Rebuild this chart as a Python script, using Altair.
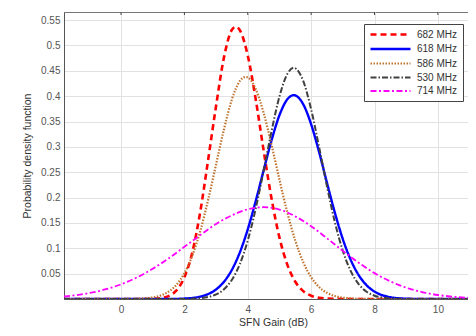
import altair as alt
import pandas as pd

series_order = ["682 MHz", "618 MHz", "586 MHz", "530 MHz", "714 MHz"]
series_colors = ["#ff0000", "#0000ff", "#c0732e", "#404040", "#ff00ff"]
series_dashes = [[6, 4], [1, 0], [1.5, 1.5], [6, 2, 1.5, 2], [6, 2.5, 2, 2.5]]
series_widths = [2.6, 1.8, 2.6, 2.4, 2.0]

x_682 = [-1.8, 0.75, 1.0, 1.25, 1.5, 1.75, 2.0, 2.25, 2.5, 2.75, 3.0, 3.25, 3.5, 3.625, 3.75,
         4.0, 4.25, 4.5, 4.75, 5.0, 5.25, 5.5, 5.75, 6.0, 6.25, 6.5, 7.0, 11.2]
y_682 = [0, 0, 0.0004, 0.0017, 0.0058, 0.017, 0.043, 0.092, 0.172, 0.275, 0.381, 0.477, 0.531, 0.537, 0.530,
         0.480, 0.394, 0.293, 0.198, 0.121, 0.0673, 0.034, 0.0155, 0.0064, 0.0024, 0.0008, 0.0001, 0]

x_618 = [-1.8, 1.5, 2.0, 2.5, 2.75, 3.0, 3.25, 3.5, 3.75, 4.0, 4.25, 4.5, 4.75, 5.0, 5.25, 5.45, 5.75,
         6.0, 6.25, 6.5, 6.75, 7.0, 7.25, 7.5, 7.75, 8.0, 8.25, 8.5, 9.0, 9.5, 11.2]
y_618 = [0, 0, 0.0009, 0.0047, 0.0098, 0.0188, 0.0341, 0.0578, 0.092, 0.1375, 0.193, 0.2536, 0.313, 0.3626, 0.394, 0.402, 0.384,
         0.3445, 0.290, 0.229, 0.1698, 0.118, 0.077, 0.0471, 0.0271, 0.0146, 0.0074, 0.0035, 0.0006, 0.0001, 0]

x_586 = [-1.8, 0.5, 0.75, 1.0, 1.25, 1.5, 1.75, 2.0, 2.25, 2.5, 2.75, 3.0, 3.25, 3.5, 3.75, 3.93, 4.0,
         4.25, 4.5, 4.75, 5.0, 5.25, 5.5, 5.75, 6.0, 6.25, 6.5, 6.75, 7.0, 7.25, 7.5, 8.0, 11.2]
y_586 = [0, 0.0005, 0.0013, 0.0031, 0.0069, 0.0144, 0.0281, 0.0509, 0.0857, 0.134, 0.196, 0.2657, 0.335, 0.394, 0.430, 0.438, 0.437,
         0.414, 0.367, 0.304, 0.235, 0.170, 0.115, 0.0726, 0.0428, 0.0236, 0.0122, 0.0059, 0.0026, 0.0011, 0.0004, 0, 0]

x_530 = [-1.8, 1.5, 2.0, 2.5, 2.75, 3.0, 3.25, 3.5, 3.75, 4.0, 4.25, 4.5, 4.75, 5.0, 5.25, 5.45, 5.75,
         6.0, 6.25, 6.5, 6.75, 7.0, 7.25, 7.5, 7.75, 8.0, 8.25, 8.5, 9.0, 11.2]
y_530 = [0, 0, 0.0002, 0.0016, 0.0039, 0.009, 0.0193, 0.038, 0.069, 0.1155, 0.178, 0.253, 0.331, 0.3995, 0.444, 0.456, 0.430,
         0.374, 0.300, 0.222, 0.151, 0.095, 0.055, 0.0293, 0.0144, 0.0065, 0.0027, 0.0011, 0.0001, 0]

x_714 = [-1.8, -1.5, -1.0, -0.5, 0, 0.5, 1.0, 1.5, 2.0, 2.5, 3.0, 3.5, 4.0, 4.5, 5.0, 5.5, 6.0,
         6.5, 7.0, 7.5, 8.0, 8.5, 9.0, 9.5, 10.0, 10.5, 11.0, 11.2]
y_714 = [0.005, 0.007, 0.0117, 0.0188, 0.029, 0.0425, 0.0597, 0.080, 0.103, 0.126, 0.148, 0.165, 0.177, 0.181, 0.1764, 0.163, 0.1435,
         0.1197, 0.0949, 0.0714, 0.051, 0.0347, 0.0223, 0.0137, 0.0079, 0.0044, 0.0023, 0.0018]

x_ticks = [0, 2, 4, 6, 8, 10]
y_ticks = [0.05, 0.1, 0.15, 0.2, 0.25, 0.3, 0.35, 0.4, 0.45, 0.5, 0.55]

rows = []
for name, xs, ys in [("682 MHz", x_682, y_682), ("618 MHz", x_618, y_618),
                     ("586 MHz", x_586, y_586), ("530 MHz", x_530, y_530),
                     ("714 MHz", x_714, y_714)]:
    for xv, yv in zip(xs, ys):
        rows.append({"series": name, "x": xv, "y": yv})
df = pd.DataFrame(rows)

FONT = "Liberation Sans"

legend = alt.Legend(
    title=None, orient="none", legendX=300, legendY=12,
    symbolType="M-9,0H1", symbolSize=64, symbolOffset=32,
    labelFontSize=10, labelColor="#333",
    labelFont=FONT, labelOffset=5, rowPadding=3.5, padding=5,
    fillColor="white", strokeColor="#444",
)

xscale = alt.Scale(domain=[-1.8, 10.95], nice=False, zero=False)
yscale = alt.Scale(domain=[0, 0.566], nice=False)

lines = alt.Chart(df).mark_line(interpolate="monotone", clip=True).encode(
    x=alt.X("x:Q", scale=xscale,
            axis=alt.Axis(values=x_ticks, format="d", title="SFN Gain (dB)",
                          labelPadding=5, titlePadding=3, titleX=209)),
    y=alt.Y("y:Q", scale=yscale,
            axis=alt.Axis(values=y_ticks, format="~g", title="Probability density function",
                          labelPadding=4, titlePadding=8)),
    color=alt.Color("series:N", scale=alt.Scale(domain=series_order, range=series_colors), legend=legend),
    strokeDash=alt.StrokeDash("series:N", scale=alt.Scale(domain=series_order, range=series_dashes), legend=legend),
    strokeWidth=alt.StrokeWidth("series:N", scale=alt.Scale(domain=series_order, range=series_widths), legend=legend),
    order=alt.Order("series:N"),
)

tick_df = pd.DataFrame({"x": x_ticks})
top_ticks = alt.Chart(tick_df).mark_rule(color="#444", strokeWidth=1).encode(
    x=alt.X("x:Q", scale=xscale), y=alt.value(0), y2=alt.value(3)
)

chart = alt.layer(top_ticks, lines).properties(
    width=404, height=287,
    autosize=alt.AutoSizeParams(type="none"),
    padding={"left": 56, "top": 4, "right": 0, "bottom": 29},
).configure_view(stroke="#777", strokeWidth=1).configure_axis(
    grid=True, gridColor="#e2e2e2", gridWidth=1, domainColor="#555",
    labelColor="#555", labelFont=FONT, labelFontSize=10,
    titleFont=FONT, titleFontSize=10.5, titleColor="#333", titleFontWeight="normal",
    ticks=False,
)

chart.save("out.html", embed_options={"renderer": "svg", "actions": False})
